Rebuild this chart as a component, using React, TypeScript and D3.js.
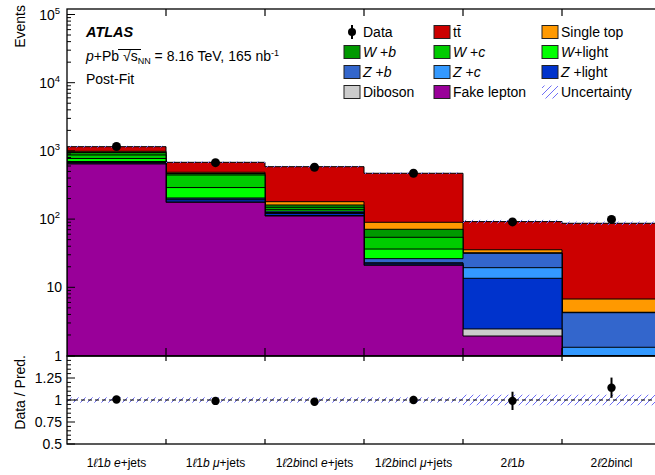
import React from 'react';
import * as d3 from 'd3';

// bins of the fit, '|' toggles italic
const binLabels = ['1|ℓ|1|b| |e|+jets', '1|ℓ|1|b| |μ|+jets', '1|ℓ|2|b|incl |e|+jets', '1|ℓ|2|b|incl |μ|+jets', '2|ℓ|1|b|', '2|ℓ|2|b|incl'];

// post-fit yields per bin
const fakeLepton = [643, 176, 111, 21, 1.93, 0.05];
const diboson = [4, 2, 2, 0.3, 0.52, 0.03];
const zLight = [30, 14, 8, 1.2, 11.1, 0.25];
const zC = [10, 5, 4, 0.4, 5.85, 0.99];
const zB = [12, 7, 6, 3.4, 12.1, 2.92];
const wLight = [75, 86, 8, 10.1, 0.1, 0.02];
const wC = [97, 153, 10, 17.7, 0.1, 0.02];
const wB = [77, 23, 12, 16.8, 0.1, 0.02];
const singleTop = [38, 20, 19, 18.9, 3.7, 2.43];
const ttbar = [167, 194, 407, 380, 56.4, 80.1];
const data = [1160, 673, 575, 470, 91, 99];
const relUnc = [0.03, 0.03, 0.03, 0.03, 0.06, 0.06];

const yTicksRatio = [0.5, 0.75, 1, 1.25];

// stacked bottom -> top
const layers = [
  { name: 'Fake lepton', label: 'Fake lepton', values: fakeLepton, color: '#990099' },
  { name: 'Diboson', label: 'Diboson', values: diboson, color: '#cccccc' },
  { name: 'Z+light', label: '|Z| +light', values: zLight, color: '#0033cc' },
  { name: 'Z+c', label: '|Z| +|c|', values: zC, color: '#3399ff' },
  { name: 'Z+b', label: '|Z| +|b|', values: zB, color: '#3366cc' },
  { name: 'W+light', label: '|W|+light', values: wLight, color: '#00ff00' },
  { name: 'W+c', label: '|W| +|c|', values: wC, color: '#00cc00' },
  { name: 'W+b', label: '|W| +|b|', values: wB, color: '#009900' },
  { name: 'Single top', label: 'Single top', values: singleTop, color: '#ff9900' },
  { name: 'ttbar', label: 'tt\u0304', values: ttbar, color: '#cc0000' },
];

// legend layout, column by column
const legendCols = [
  ['Data', 'W+b', 'Z+b', 'Diboson'],
  ['ttbar', 'W+c', 'Z+c', 'Fake lepton'],
  ['Single top', 'W+light', 'Z+light', 'Uncertainty'],
];

const font = '"Liberation Sans", Arial, Helvetica, sans-serif';

function Rich({ s }: { s: string }) {
  return (
    <>
      {s.split('|').map((p, i) =>
        i % 2 ? <tspan key={i} fontStyle="italic">{p}</tspan> : <tspan key={i}>{p}</tspan>
      )}
    </>
  );
}

export default function App() {
  const W = 655, H = 475;
  const left = 67, right = 661, top = 9, mainBottom = 356, ratioBottom = 444;
  const nb = binLabels.length;

  const x = d3.scaleLinear().domain([0, nb]).range([left, right]);
  const y = d3.scaleLog().domain([1, 1e5]).range([355.5, 14.5]);
  const r = d3.scaleLinear().domain([0.5, 1.5]).range([ratioBottom, mainBottom]);

  const yc = (v: number) => Math.min(y(Math.max(v, 1e-4)), mainBottom);

  // cumulative sums
  const cum: number[][] = [];
  layers.forEach((l, k) => {
    cum.push(l.values.map((v, i) => v + (k ? cum[k - 1][i] : 0)));
  });
  const total = cum[cum.length - 1];

  const stepPath = (vals: number[]) => {
    let d = `M${x(0)},${mainBottom}`;
    vals.forEach((v, i) => {
      d += `L${x(i)},${yc(v)}L${x(i + 1)},${yc(v)}`;
    });
    d += `L${x(nb)},${mainBottom}Z`;
    return d;
  };

  const yTicks = y.ticks();
  const isMajor = (t: number) => Math.abs(Math.log10(t) - Math.round(Math.log10(t))) < 1e-9;
  const rMinor = d3.range(0.5, 1.5001, 0.05);

  const layerByName: Record<string, any> = {};
  layers.forEach(l => (layerByName[l.name] = l));

  const legX = [344, 434, 542];
  const legY = [32, 52, 72, 92];

  return (
    <svg width={W} height={H} style={{ position: 'absolute', left: 0, top: 0, fontFamily: font }}>
      <defs>
        <pattern id="hatch" patternUnits="userSpaceOnUse" width="7" height="7">
          <path d="M-1,1 L1,-1 M0,7 L7,0 M6,8 L8,6" stroke="#6f6ff5" strokeWidth="1" />
        </pattern>
        <clipPath id="clipMain"><rect x={left} y={top} width={right - left} height={mainBottom - top} /></clipPath>
        <clipPath id="clipRatio"><rect x={left} y={mainBottom} width={right - left} height={ratioBottom - mainBottom} /></clipPath>
      </defs>
      <rect width={W} height={H} fill="white" />

      {/* stacked histograms, drawn top layer first */}
      <g clipPath="url(#clipMain)">
        {layers.map((l, k) => ({ l, k })).reverse().map(({ l, k }) => (
          <path key={l.name} d={stepPath(cum[k])} fill={l.color} stroke="#000" strokeWidth={1} />
        ))}
        {total.map((t, i) => (
          <rect key={i} x={x(i)} width={x(i + 1) - x(i)} y={y(t * (1 + relUnc[i]))}
            height={y(t * (1 - relUnc[i])) - y(t * (1 + relUnc[i]))} fill="url(#hatch)" />
        ))}
        {data.map((d, i) => {
          const cx = (x(i) + x(i + 1)) / 2;
          const e = Math.sqrt(d);
          return (
            <g key={i}>
              <line x1={cx} x2={cx} y1={y(d - e)} y2={y(d + e)} stroke="#000" strokeWidth={2} />
              <circle cx={cx} cy={y(d)} r={4.5} fill="#000" />
            </g>
          );
        })}
      </g>

      {/* ratio panel */}
      <g clipPath="url(#clipRatio)">
        {total.map((t, i) => (
          <rect key={i} x={x(i)} width={x(i + 1) - x(i)} y={r(1 + relUnc[i])}
            height={r(1 - relUnc[i]) - r(1 + relUnc[i])} fill="url(#hatch)" />
        ))}
        <line x1={left} x2={right} y1={r(1)} y2={r(1)} stroke="#000" strokeWidth={1.2} strokeDasharray="4,3" />
        {data.map((d, i) => {
          const cx = (x(i) + x(i + 1)) / 2;
          const v = d / total[i];
          const e = Math.sqrt(d) / total[i];
          return (
            <g key={i}>
              <line x1={cx} x2={cx} y1={r(v - e)} y2={r(v + e)} stroke="#000" strokeWidth={2} />
              <circle cx={cx} cy={r(v)} r={4.2} fill="#000" />
            </g>
          );
        })}
      </g>

      {/* frames */}
      <rect x={left} y={top} width={right - left} height={mainBottom - top} fill="none" stroke="#000" strokeWidth={1.3} />
      <rect x={left} y={mainBottom} width={right - left} height={ratioBottom - mainBottom} fill="none" stroke="#000" strokeWidth={1.3} />

      {/* x ticks at bin edges */}
      {d3.range(1, nb).map(i => (
        <g key={i} stroke="#000" strokeWidth={1.2}>
          <line x1={x(i)} x2={x(i)} y1={top} y2={top + 7} />
          <line x1={x(i)} x2={x(i)} y1={mainBottom} y2={mainBottom - 8} />
          <line x1={x(i)} x2={x(i)} y1={mainBottom} y2={mainBottom + 5} />
          <line x1={x(i)} x2={x(i)} y1={ratioBottom} y2={ratioBottom - 5} />
        </g>
      ))}

      {/* main y axis */}
      {yTicks.map(t => (
        <line key={t} x1={left} x2={left + (isMajor(t) ? 8 : 4)} y1={y(t)} y2={y(t)} stroke="#000" strokeWidth={1} />
      ))}
      {yTicks.filter(isMajor).map(t => {
        const e = Math.round(Math.log10(t));
        return (
          <text key={t} x={e < 2 ? 62 : 60} y={y(t) + 5} textAnchor="end" fontSize={14}>
            {e === 0 ? '1' : '10'}
            {e >= 2 && <tspan dy={-6} fontSize={9.5}>{e}</tspan>}
          </text>
        );
      })}
      <text transform="translate(25,5) rotate(-90)" textAnchor="end" fontSize={14}>Events</text>

      {/* ratio y axis */}
      {rMinor.map(t => {
        const major = yTicksRatio.includes(Math.round(t * 100) / 100) || Math.abs(t - 1.5) < 1e-6;
        return <line key={t} x1={left} x2={left + (major ? 8 : 4)} y1={r(t)} y2={r(t)} stroke="#000" strokeWidth={1} />;
      })}
      {yTicksRatio.map(t => (
        <text key={t} x={62} y={r(t) + 5} textAnchor="end" fontSize={14}>{t}</text>
      ))}
      <text transform="translate(25,355) rotate(-90)" textAnchor="end" fontSize={14}>Data / Pred.</text>

      {/* bin labels */}
      {binLabels.map((s, i) => (
        <text key={i} x={(x(i) + x(i + 1)) / 2} y={467} textAnchor="middle" fontSize={12}>
          <Rich s={s} />
        </text>
      ))}

      {/* ATLAS label */}
      <text x={86} y={37} fontSize={14.5} fontWeight="bold" fontStyle="italic">ATLAS</text>
      <text x={86} y={61} fontSize={14}>
        <tspan fontStyle="italic">p</tspan>+Pb <tspan>√</tspan>s<tspan dy={3} fontSize={9}>NN</tspan>
        <tspan dy={-3}> = 8.16 TeV, 165 nb</tspan><tspan dy={-5} fontSize={9}>-1</tspan>
      </text>
      <line x1={118} x2={141} y1={49.5} y2={49.5} stroke="#000" strokeWidth={1} />
      <text x={86} y={84} fontSize={14}>Post-Fit</text>

      {/* legend */}
      {legendCols.map((col, ci) =>
        col.map((name, ri) => {
          const bx = legX[ci], cy = legY[ri];
          let icon;
          let label: string = name;
          if (name === 'Data') {
            icon = (
              <g>
                <line x1={bx + 8} x2={bx + 8} y1={cy - 7} y2={cy + 7} stroke="#000" strokeWidth={2} />
                <circle cx={bx + 8} cy={cy} r={4} fill="#000" />
              </g>
            );
          } else if (name === 'Uncertainty') {
            icon = <rect x={bx} y={cy - 6.5} width={16} height={13} fill="url(#hatch)" />;
          } else {
            const l = layerByName[name];
            label = l.label;
            icon = <rect x={bx} y={cy - 6.5} width={16} height={13} fill={l.color} stroke="#222" strokeWidth={1} />;
          }
          return (
            <g key={name}>
              {icon}
              <text x={bx + 19} y={cy + 5} fontSize={14}><Rich s={label} /></text>
            </g>
          );
        })
      )}
    </svg>
  );
}
